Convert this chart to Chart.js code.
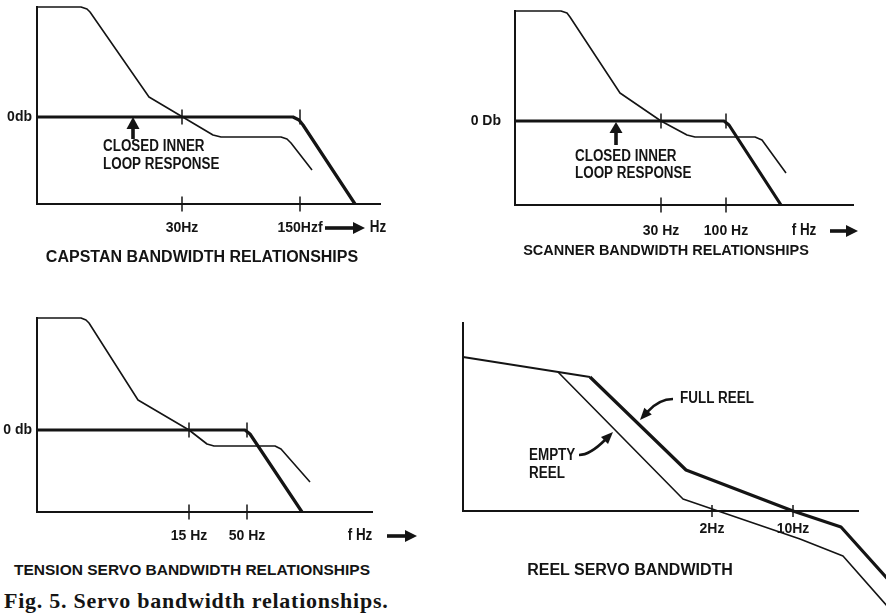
<!DOCTYPE html>
<html>
<head>
<meta charset="utf-8">
<script src="https://cdn.jsdelivr.net/npm/chart.js@4.4.1/dist/chart.umd.min.js"></script>
<style>
html,body{margin:0;padding:0;background:#fff;}
body{width:886px;height:614px;position:relative;overflow:hidden;}
canvas{position:absolute;}
.title{position:absolute;font-family:'Liberation Sans',Arial,sans-serif;font-weight:bold;color:#141414;white-space:nowrap;transform:translateX(-50%);line-height:1;}
#caption{position:absolute;left:4px;top:590px;font-family:'Liberation Serif','DejaVu Serif',serif;font-weight:bold;font-size:22px;letter-spacing:0.75px;line-height:22px;color:#141414;white-space:nowrap;}
</style>
</head>
<body>
<canvas id="capstan" style="left:0;top:0" width="443" height="270"></canvas>
<canvas id="scanner" style="left:443px;top:0" width="443" height="270"></canvas>
<canvas id="tension" style="left:0;top:300px" width="443" height="250"></canvas>
<canvas id="reel" style="left:443px;top:300px" width="443" height="314"></canvas>
<div class="title" style="left:202px;top:248.5px;font-size:16px">CAPSTAN BANDWIDTH RELATIONSHIPS</div>
<div class="title" style="left:666px;top:243px;font-size:14.5px">SCANNER BANDWIDTH RELATIONSHIPS</div>
<div class="title" style="left:192px;top:561.5px;font-size:15.5px">TENSION SERVO BANDWIDTH RELATIONSHIPS</div>
<div class="title" style="left:630px;top:561.5px;font-size:16px">REEL SERVO BANDWIDTH</div>
<div id="caption">Fig. 5. Servo bandwidth relationships.</div>
<script>
// x = position along the (log) frequency axis, y = gain, 0 = the 0 dB line
const capstanOuter = [[0,110],[44,110],[50,108],[53,105],[112,20],[176,-18],[184,-20],[244,-20],[250,-22],[254,-26],[275,-53]];
const capstanInner = [[0,0],[256,0],[262,-3],[266,-8],[318,-87]];
const capstanTicks = [145, 263];
const capstanTickLabels = ['30Hz', '150Hzf'];
const capstanYLabels = ['0db'];

const scannerOuter = [[0,110],[46,110],[52,108],[55,104],[105,28],[146,0],[172,-14],[180,-16],[240,-16],[247,-19],[271,-52]];
const scannerInner = [[0,0],[209,0],[214,-4],[266,-84]];
const scannerTicks = [146, 211];
const scannerTickLabels = ['30 Hz', '100 Hz'];
const scannerYLabels = ['0 Db'];

const tensionOuter = [[0,112],[44,112],[49,110],[52,107],[101,30],[152,0],[170,-14],[177,-16],[238,-16],[244,-19],[273,-52]];
const tensionInner = [[0,0],[208,0],[213,-4],[265,-82]];
const tensionTicks = [152, 210];
const tensionTickLabels = ['15 Hz', '50 Hz'];
const tensionYLabels = ['0 db'];

const reelFull = [[0,154],[127,134],[223,41],[330,0],[378,-16],[440,-85]];
const reelEmpty = [[95,139],[220,12],[337,-28],[380,-45],[440,-113]];
const reelTicks = [249, 330];
const reelTickLabels = ['2Hz', '10Hz'];
const reelYLabels = [];

const INK = '#141414';
const LABEL_FAMILY = "'Liberation Sans',Arial,sans-serif";
const NARROW = 0.84; // squeeze for the condensed lettering

const panels = {
  capstan: {
    series: [{pts: capstanOuter, w: 1.6}, {pts: capstanInner, w: 3.2}],
    x: [0, 343], y: [-87, 110], pad: {left: 0, top: 7, right: 63, bottom: 36}, yw: 37,
    ticks: capstanTicks, tickLabels: capstanTickLabels, tickPad: 16,
    yTicks: [0], yLabels: capstanYLabels, yPad: 5, crossAt: [0, -87],
    notes: [{text: 'CLOSED INNER', x: 66, y: -30}, {text: 'LOOP RESPONSE', x: 66, y: -48}],
    upArrow: {x: 96, tip: 0, base: -12, end: -22},
    endLabel: {text: 'Hz', x: 341, a0: 288, a1: 328, dy: 24}
  },
  scanner: {
    series: [{pts: scannerOuter, w: 1.6}, {pts: scannerInner, w: 3.2}],
    x: [0, 338], y: [-84, 110], pad: {left: 0, top: 11, right: 33, bottom: 35}, yw: 72,
    ticks: scannerTicks, tickLabels: scannerTickLabels, tickPad: 18,
    yTicks: [0], yLabels: scannerYLabels, yPad: 14, crossAt: [0, -84],
    notes: [{text: 'CLOSED INNER', x: 60, y: -36}, {text: 'LOOP RESPONSE', x: 60, y: -53}],
    upArrow: {x: 101, tip: -1, base: -12, end: -24},
    endLabel: {text: 'f Hz', x: 289, a0: 315, a1: 343, dy: 26}
  },
  tension: {
    series: [{pts: tensionOuter, w: 1.6}, {pts: tensionInner, w: 3.2}],
    x: [0, 335], y: [-82, 112], pad: {left: 0, top: 18, right: 71, bottom: 8}, yw: 37,
    ticks: tensionTicks, tickLabels: tensionTickLabels, tickPad: 16,
    yTicks: [0], yLabels: tensionYLabels, yPad: 5, crossAt: [0, -82],
    notes: [],
    endLabel: {text: 'f Hz', x: 323, a0: 350, a1: 380, dy: 24}
  },
  reel: {
    series: [{pts: reelEmpty, w: 1.6}, {pts: reelFull, w: 3.2, firstW: 1.8}],
    x: [0, 395], y: [0, 188], pad: {left: 0, top: 23, right: 28, bottom: 73}, yw: 20,
    ticks: reelTicks, tickLabels: reelTickLabels, tickPad: 10,
    yTicks: [], yLabels: reelYLabels, yPad: 5, crossAt: [0], crossHalf: 6,
    notes: [{text: 'FULL REEL', x: 217, y: 112}, {text: 'EMPTY', x: 66, y: 55}, {text: 'REEL', x: 66, y: 37}],
    leaders: [
      {from: [210, 112], ctrl: [196, 112], tip: [177, 91]},
      {from: [116, 56], ctrl: [127, 56], tip: [150, 79]}
    ]
  }
};

function head(ctx, fx, fy, tx, ty, len, half) {
  const a = Math.atan2(ty - fy, tx - fx), c = Math.cos(a), s = Math.sin(a);
  ctx.beginPath();
  ctx.moveTo(tx, ty);
  ctx.lineTo(tx - len * c + half * s, ty - len * s - half * c);
  ctx.lineTo(tx - len * c - half * s, ty - len * s + half * c);
  ctx.closePath();
  ctx.fill();
}

function narrowText(ctx, text, px, py, align) {
  ctx.save();
  ctx.translate(px, py);
  ctx.scale(NARROW, 1);
  ctx.textAlign = align;
  ctx.fillText(text, 0, 0);
  ctx.restore();
}

const marksPlugin = {
  id: 'marks',
  afterDatasetsDraw(chart) {
    const o = panels[chart.canvas.id];
    const {ctx, scales: {x, y}, chartArea: a} = chart;
    ctx.save();
    ctx.strokeStyle = INK; ctx.fillStyle = INK;
    // tick crosses on the 0 dB line and on the axis
    ctx.lineWidth = 1.5;
    const h = o.crossHalf || 7.5;
    o.ticks.forEach(v => {
      const px = x.getPixelForValue(v);
      o.crossAt.forEach(yv => {
        const py = y.getPixelForValue(yv);
        ctx.beginPath(); ctx.moveTo(px, py - h); ctx.lineTo(px, py + h); ctx.stroke();
      });
    });
    // notes
    ctx.font = 'bold 16px ' + LABEL_FAMILY;
    ctx.textBaseline = 'middle';
    o.notes.forEach(n => narrowText(ctx, n.text, x.getPixelForValue(n.x), y.getPixelForValue(n.y), 'left'));
    // arrow pointing at the closed loop line
    if (o.upArrow) {
      const u = o.upArrow, px = x.getPixelForValue(u.x);
      const pt = y.getPixelForValue(u.tip), pb = y.getPixelForValue(u.base), pe = y.getPixelForValue(u.end);
      ctx.fillRect(px - 1.8, pb - 1, 3.6, pe - pb + 1);
      head(ctx, px, pe, px, pt, pb - pt, 6.5);
    }
    // curved leaders with arrowheads
    (o.leaders || []).forEach(l => {
      const fx = x.getPixelForValue(l.from[0]), fy = y.getPixelForValue(l.from[1]);
      const cx = x.getPixelForValue(l.ctrl[0]), cy = y.getPixelForValue(l.ctrl[1]);
      const tx = x.getPixelForValue(l.tip[0]), ty = y.getPixelForValue(l.tip[1]);
      const d = Math.hypot(tx - cx, ty - cy), len = 11;
      const bx = tx - (tx - cx) / d * len, by = ty - (ty - cy) / d * len;
      ctx.lineWidth = 2.6;
      ctx.beginPath(); ctx.moveTo(fx, fy); ctx.quadraticCurveTo(cx, cy, bx, by); ctx.stroke();
      head(ctx, cx, cy, tx, ty, len + 1, 5);
    });
    // frequency label with arrow at the end of the axis
    if (o.endLabel) {
      const e = o.endLabel, py = a.bottom + e.dy;
      narrowText(ctx, e.text, x.getPixelForValue(e.x), py, 'center');
      const x0 = x.getPixelForValue(e.a0), x1 = x.getPixelForValue(e.a1);
      ctx.fillRect(x0, py - 1.8, x1 - x0 - 10, 3.6);
      head(ctx, x0, py, x1, py, 12, 6);
    }
    ctx.restore();
  }
};

Object.keys(panels).forEach(id => {
  const o = panels[id];
  const datasets = o.series.map(s => ({
    data: s.pts.map(p => ({x: p[0], y: p[1]})),
    borderColor: INK,
    borderWidth: s.w,
    segment: s.firstW ? {borderWidth: c => c.p0DataIndex === 0 ? s.firstW : s.w} : {},
    borderJoinStyle: 'round',
    pointRadius: 0,
    tension: 0,
    fill: false,
    clip: false
  }));
  const tickFont = {family: LABEL_FAMILY, size: 14, weight: 'bold'};
  new Chart(document.getElementById(id), {
    type: 'line',
    data: {datasets},
    options: {
      responsive: false,
      animation: false,
      events: [],
      layout: {padding: o.pad},
      plugins: {legend: {display: false}, tooltip: {enabled: false}},
      scales: {
        x: {
          type: 'linear', min: o.x[0], max: o.x[1],
          grid: {display: false, drawTicks: false},
          border: {display: true, width: 2, color: INK},
          afterBuildTicks: s => { s.ticks = o.ticks.map(v => ({value: v})); },
          afterFit: s => { s.height = 30; s.paddingLeft = 0; s.paddingRight = 0; },
          ticks: {padding: o.tickPad, maxRotation: 0, minRotation: 0, autoSkip: false, color: INK, font: tickFont,
                  callback: (v, i) => o.tickLabels[i]}
        },
        y: {
          type: 'linear', min: o.y[0], max: o.y[1],
          grid: {display: false, drawTicks: false},
          border: {display: true, width: 2, color: INK},
          afterBuildTicks: s => { s.ticks = o.yTicks.map(v => ({value: v})); },
          afterFit: s => { s.width = o.yw; s.paddingTop = 0; s.paddingBottom = 0; },
          ticks: {padding: o.yPad, autoSkip: false, color: INK, font: tickFont, display: o.yTicks.length > 0,
                  callback: (v, i) => o.yLabels[i]}
        }
      }
    },
    plugins: [marksPlugin]
  });
});
</script>
</body>
</html>
